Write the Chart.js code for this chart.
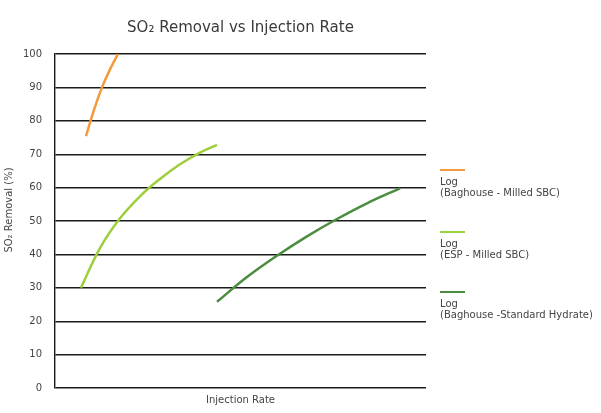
<!DOCTYPE html>
<html>
<head>
<meta charset="utf-8">
<script src="https://cdn.jsdelivr.net/npm/chart.js@4"></script>
<style>
html,body{margin:0;padding:0;background:#fff;}
#wrap{width:601px;height:413px;position:relative;}
</style>
</head>
<body>
<div id="wrap"><canvas id="c" width="601" height="413"></canvas></div>
<script>
// Data (x = injection rate, arbitrary units; y = SO2 removal %)
const chartTitle = "SO\u2082 Removal vs Injection Rate";
const yTitle = "SO\u2082 Removal (%)";
const xTitle = "Injection Rate";
const seriesLabels = [
  ["Log", "(Baghouse - Milled SBC)"],
  ["Log", "(ESP - Milled SBC)"],
  ["Log", "(Baghouse -Standard Hydrate)"]
];
const seriesColors = ["#f39a3e", "#9dcf3c", "#4c8c3e"];

const baghouseMilledX = [31, 39, 47, 55, 63];
const baghouseMilledY = [75.4, 83.3, 90.0, 95.4, 100];

const espMilledX = [26, 45, 65, 85, 105, 125, 145, 162];
const espMilledY = [30, 41.9, 50.8, 57.4, 62.6, 67.0, 70.5, 72.8];

const baghouseHydrateX = [162, 192, 222, 252, 282, 312, 345];
const baghouseHydrateY = [25.8, 33.2, 39.6, 45.4, 50.6, 55.3, 59.8];

const yTicks = [0, 10, 20, 30, 40, 50, 60, 70, 80, 90, 100];

function pts(xs, ys){ return xs.map((x,i)=>({x:x, y:ys[i]})); }

const FONT = "'DejaVu Sans', 'Open Sans', sans-serif";

const textPlugin = {
  id: 'textPlugin',
  afterDraw(chart){
    const ctx = chart.ctx;
    const ca = chart.chartArea;
    ctx.save();
    // Title
    ctx.fillStyle = '#3a3a3a';
    ctx.font = "15px " + FONT;
    ctx.textAlign = 'center';
    ctx.textBaseline = 'middle';
    ctx.fillText(chartTitle, (ca.left + ca.right)/2, 28);
    // X title
    ctx.font = "10px " + FONT;
    ctx.fillStyle = '#444';
    ctx.fillText(xTitle, (ca.left + ca.right)/2, 400);
    // Y title
    ctx.save();
    ctx.translate(9, 210);
    ctx.rotate(-Math.PI/2);
    ctx.fillText(yTitle, 0, 0);
    ctx.restore();
    // Legend
    const lineYs = [170, 232, 292];
    ctx.textAlign = 'left';
    chart.data.datasets.forEach((ds, i) => {
      const ly = lineYs[i];
      ctx.strokeStyle = ds.borderColor;
      ctx.lineWidth = 2;
      ctx.beginPath();
      ctx.moveTo(440, ly);
      ctx.lineTo(465, ly);
      ctx.stroke();
      ctx.fillStyle = '#444';
      ctx.font = "10px " + FONT;
      ds.label.forEach((t, j) => {
        ctx.fillText(t, 440, ly + 12 + j * 11.5);
      });
    });
    ctx.restore();
  }
};

const datasets = [
  {label: seriesLabels[0], data: pts(baghouseMilledX, baghouseMilledY), borderColor: seriesColors[0]},
  {label: seriesLabels[1], data: pts(espMilledX, espMilledY), borderColor: seriesColors[1]},
  {label: seriesLabels[2], data: pts(baghouseHydrateX, baghouseHydrateY), borderColor: seriesColors[2]}
].map(d => Object.assign(d, {
  borderWidth: 2.5, pointRadius: 0, fill: false, tension: 0.4, showLine: true
}));

new Chart(document.getElementById('c'), {
  type: 'scatter',
  data: { datasets },
  options: {
    responsive: false,
    animation: false,
    devicePixelRatio: 1,
    layout: { padding: { left: 0, right: 175, top: 54, bottom: 25 } },
    plugins: { legend: { display: false }, title: { display: false }, tooltip: { enabled: false } },
    scales: {
      x: {
        type: 'linear', min: 0, max: 371,
        display: true,
        ticks: { display: false },
        grid: { display: false, drawTicks: false },
        border: { display: false },
        afterFit(s){ s.height = 0; }
      },
      y: {
        type: 'linear', min: 0, max: 100,
        afterBuildTicks(s){ s.ticks = yTicks.map(v => ({value: v})); },
        ticks: { color: '#444', font: { size: 10, family: FONT }, padding: 13 },
        grid: { color: '#1a1a1a', lineWidth: 1.4, drawTicks: false },
        border: { display: true, color: '#1a1a1a', width: 1.4 },
        afterFit(s){ s.width = 55; }
      }
    }
  },
  plugins: [textPlugin]
});
</script>
</body>
</html>
